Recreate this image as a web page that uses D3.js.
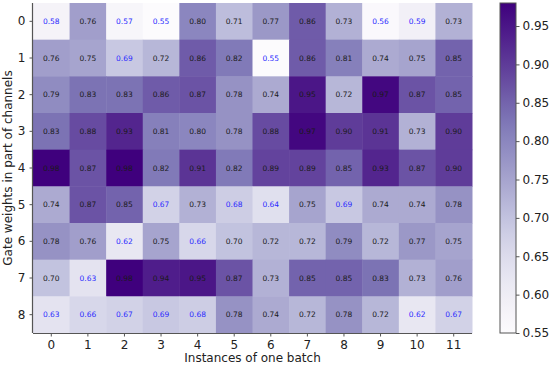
<!DOCTYPE html>
<html>
<head>
<meta charset="utf-8">
<script src="https://cdn.jsdelivr.net/npm/d3@7"></script>
<style>
  body { margin: 0; background: #fff; }
  svg text { font-family: "DejaVu Sans", sans-serif; }
</style>
</head>
<body>
<div id="chart"></div>
<script>
(function(){
const rowLabels = ["0", "1", "2", "3", "4", "5", "6", "7", "8"];
const colLabels = ["0", "1", "2", "3", "4", "5", "6", "7", "8", "9", "10", "11"];
const gateValues = [
  [0.58, 0.76, 0.57, 0.55, 0.80, 0.71, 0.77, 0.86, 0.73, 0.56, 0.59, 0.73],
  [0.76, 0.75, 0.69, 0.72, 0.86, 0.82, 0.55, 0.86, 0.81, 0.74, 0.75, 0.85],
  [0.79, 0.83, 0.83, 0.86, 0.87, 0.78, 0.74, 0.95, 0.72, 0.97, 0.87, 0.85],
  [0.83, 0.88, 0.93, 0.81, 0.80, 0.78, 0.88, 0.97, 0.90, 0.91, 0.73, 0.90],
  [0.98, 0.87, 0.98, 0.82, 0.91, 0.82, 0.89, 0.89, 0.85, 0.93, 0.87, 0.90],
  [0.74, 0.87, 0.85, 0.67, 0.73, 0.68, 0.64, 0.75, 0.69, 0.74, 0.74, 0.78],
  [0.78, 0.76, 0.62, 0.75, 0.66, 0.70, 0.72, 0.72, 0.79, 0.72, 0.77, 0.75],
  [0.70, 0.63, 0.98, 0.94, 0.95, 0.87, 0.73, 0.85, 0.85, 0.83, 0.73, 0.76],
  [0.63, 0.66, 0.67, 0.69, 0.68, 0.78, 0.74, 0.72, 0.78, 0.72, 0.62, 0.67]
];
const colorbarTicks = [0.55, 0.60, 0.65, 0.70, 0.75, 0.80, 0.85, 0.90, 0.95];

const width = 550, height = 368;
const left = 33, right = 472, top = 3, bottom = 333;
const cbLeft = 500, cbWidth = 16;
const vmin = 0.55, vmax = 0.98;

const svg = d3.select("#chart").append("svg")
  .attr("width", width).attr("height", height);

const x = d3.scaleBand().domain(colLabels).range([left, right]);
const y = d3.scaleBand().domain(rowLabels).range([top, bottom]);
const color = d3.scaleSequential(d3.interpolatePurples).domain([vmin, vmax]);

const cells = [];
gateValues.forEach((row, i) => row.forEach((v, j) => cells.push({r: rowLabels[i], c: colLabels[j], v: v})));

svg.selectAll(".cell").data(cells).enter().append("rect")
  .attr("x", d => x(d.c)).attr("y", d => y(d.r))
  .attr("width", x.bandwidth() + 0.5).attr("height", y.bandwidth() + 0.5)
  .attr("fill", d => color(d.v));

svg.selectAll(".val").data(cells).enter().append("text")
  .attr("x", d => x(d.c) + x.bandwidth() / 2)
  .attr("y", d => y(d.r) + y.bandwidth() / 2)
  .attr("dy", "0.35em")
  .attr("text-anchor", "middle")
  .attr("font-size", 7.5)
  .attr("fill", d => d.v < 0.70 ? "#2b2bff" : "#1a1a1a")
  .text(d => d.v.toFixed(2));

// axes
const xAxis = svg.append("g").attr("transform", `translate(0,${bottom})`)
  .call(d3.axisBottom(x).tickSize(3.5).tickPadding(4));
const yAxis = svg.append("g").attr("transform", `translate(${left},0)`)
  .call(d3.axisLeft(y).tickSize(3.5).tickPadding(4));
[xAxis, yAxis].forEach(g => {
  g.select(".domain").attr("stroke", "#555").attr("stroke-width", 1.2);
  g.selectAll(".tick line").attr("stroke", "#555");
  g.selectAll(".tick text").attr("font-size", 12).attr("fill", "#222")
    .attr("font-family", "DejaVu Sans, sans-serif");
});
xAxis.select(".domain").attr("d", `M${left},0.5H${right}`);
yAxis.select(".domain").attr("d", `M-0.5,${top}V${bottom}`);

svg.append("text")
  .attr("x", (left + right) / 2).attr("y", 362)
  .attr("text-anchor", "middle").attr("font-size", 12).attr("fill", "#222")
  .text("Instances of one batch");

svg.append("text")
  .attr("transform", `translate(12,${(top + bottom) / 2}) rotate(-90)`)
  .attr("text-anchor", "middle").attr("font-size", 12).attr("fill", "#222")
  .text("Gate weights in part of channels");

// colorbar
const cy = d3.scaleLinear().domain([vmin, vmax]).range([bottom, top]);
const defs = svg.append("defs");
const grad = defs.append("linearGradient").attr("id", "cbgrad")
  .attr("x1", 0).attr("y1", 1).attr("x2", 0).attr("y2", 0);
d3.range(0, 1.0001, 0.05).forEach(t => {
  grad.append("stop").attr("offset", t).attr("stop-color", color(vmin + t * (vmax - vmin)));
});
svg.append("rect")
  .attr("x", cbLeft).attr("y", top).attr("width", cbWidth).attr("height", bottom - top)
  .attr("fill", "url(#cbgrad)").attr("stroke", "#555").attr("stroke-width", 1);

const cbAxis = svg.append("g").attr("transform", `translate(${cbLeft + cbWidth},0)`)
  .call(d3.axisRight(cy).tickValues(colorbarTicks).tickFormat(d3.format(".2f")).tickSize(3.5).tickPadding(3));
cbAxis.select(".domain").remove();
cbAxis.selectAll(".tick line").attr("stroke", "#555");
cbAxis.selectAll(".tick text").attr("font-size", 12).attr("fill", "#222")
  .attr("font-family", "DejaVu Sans, sans-serif");
})();
</script>
</body>
</html>
